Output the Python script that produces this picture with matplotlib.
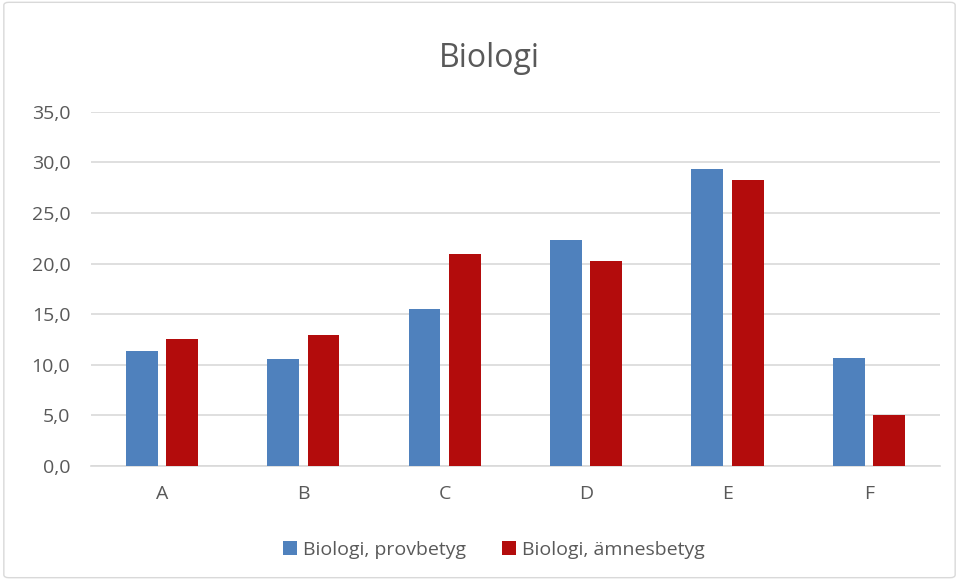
import numpy as np
import matplotlib.pyplot as plt
from matplotlib.patches import FancyBboxPatch

# data
categories = ['A', 'B', 'C', 'D', 'E', 'F']
provbetyg = [11.4, 10.6, 15.5, 22.3, 29.4, 10.7]
amnesbetyg = [12.5, 12.9, 20.9, 20.3, 28.3, 5.0]
yticks = [0, 5, 10, 15, 20, 25, 30, 35]

plt.rcParams['font.family'] = ['Open Sans', 'DejaVu Sans']

fig = plt.figure(figsize=(9.59, 5.8), dpi=100)
ax = fig.add_axes([0.095, 0.197, 0.885, 0.61])

x = np.arange(len(categories))
w = 0.226
gap = 0.06
ax.bar(x - (w + gap) / 2, provbetyg, w, color='#4f81bd', label='Biologi, provbetyg', zorder=3)
ax.bar(x + (w + gap) / 2, amnesbetyg, w, color='#b30c0c', label='Biologi, ämnesbetyg', zorder=3)

ax.set_xlim(-0.5, len(categories) - 0.5)
ax.set_ylim(0, 35)
ax.set_yticks(yticks)
ax.set_yticklabels([f'{v:.1f}'.replace('.', ',') for v in yticks])
ax.set_xticks(x)
ax.set_xticklabels(categories)
ax.grid(axis='y', color='#d9d9d9', linewidth=1.2, zorder=0)
for s in ['top', 'right', 'left']:
    ax.spines[s].set_visible(False)
ax.spines['bottom'].set_color('#d9d9d9')
ax.spines['bottom'].set_linewidth(1.2)
ax.tick_params(axis='both', length=0, labelsize=14, colors='#595959')
ax.tick_params(axis='y', pad=15)
ax.tick_params(axis='x', pad=14)

fig.text(0.51, 0.8845, 'Biologi', ha='center', va='baseline', fontsize=23, color='#595959')
fig.legend(loc='center', bbox_to_anchor=(0.515, 0.052), ncol=2, frameon=False,
           fontsize=14, labelcolor='#595959', handlelength=0.7, handleheight=0.7,
           handletextpad=0.3, columnspacing=1.9)

# light frame round the chart
fig.patches.append(FancyBboxPatch((0.004, 0.004), 0.992, 0.992, boxstyle='round,pad=0,rounding_size=0.005',
                                  transform=fig.transFigure, fill=False, edgecolor='#d9d9d9', linewidth=1))

fig.savefig('out.png', dpi=100)
